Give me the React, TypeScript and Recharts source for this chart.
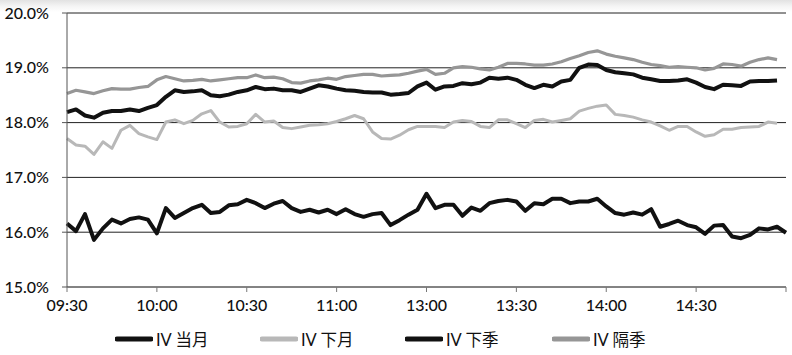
import { LineChart, Line, XAxis, YAxis, CartesianGrid, Legend } from "recharts";

// minutes after 09:30, lunch break removed (120 = 13:00)
const minutes = [
  0, 3, 6, 9, 12, 15, 18, 21, 24, 27, 30, 33, 36, 39, 42, 45, 48, 51, 54, 57,
  60, 63, 66, 69, 72, 75, 78, 81, 84, 87, 90, 93, 96, 99, 102, 105, 108, 111,
  114, 117, 120, 123, 126, 129, 132, 135, 138, 141, 144, 147, 150, 153, 156,
  159, 162, 165, 168, 171, 174, 177, 180, 183, 186, 189, 192, 195, 198, 201,
  204, 207, 210, 213, 216, 219, 222, 225, 228, 231, 234, 237, 240,
];

const dangYue = [
  16.16, 16.02, 16.33, 15.86, 16.07, 16.23, 16.16, 16.24, 16.27, 16.23,
  15.98, 16.44, 16.26, 16.35, 16.44, 16.5, 16.35, 16.37, 16.49, 16.51,
  16.59, 16.53, 16.44, 16.52, 16.57, 16.44, 16.37, 16.41, 16.36, 16.41,
  16.33, 16.42, 16.33, 16.28, 16.33, 16.35, 16.13, 16.22, 16.32, 16.41,
  16.7, 16.44, 16.5, 16.5, 16.3, 16.45, 16.39, 16.53, 16.57, 16.59,
  16.56, 16.39, 16.53, 16.51, 16.61, 16.61, 16.53, 16.56, 16.56, 16.61,
  16.47, 16.35, 16.32, 16.36, 16.32, 16.42, 16.1, 16.15, 16.21, 16.13,
  16.09, 15.97, 16.12, 16.13, 15.92, 15.89, 15.95, 16.07, 16.05, 16.1,
  15.99,
];

const xiaYue = [
  17.71, 17.59, 17.57, 17.42, 17.65, 17.53, 17.86, 17.95, 17.8, 17.74,
  17.69, 18.01, 18.05, 17.98, 18.04, 18.16, 18.22, 18.01, 17.92, 17.93,
  17.98, 18.15, 18.01, 18.03, 17.91, 17.89, 17.92, 17.95, 17.96, 17.98,
  18.02, 18.07, 18.13, 18.07, 17.83, 17.71, 17.7, 17.77, 17.87, 17.93,
  17.93, 17.93, 17.91, 18.01, 18.04, 18.02, 17.93, 17.91, 18.05, 18.05,
  17.98, 17.91, 18.04, 18.06, 18.01, 18.04, 18.07, 18.21, 18.26, 18.3,
  18.32, 18.15, 18.13, 18.1, 18.05, 18.01, 17.94, 17.86, 17.93, 17.93,
  17.83, 17.75, 17.78, 17.88, 17.88, 17.91, 17.92, 17.93, 18.01, 17.99,
  null,
];

const xiaJi = [
  18.19, 18.24, 18.13, 18.09, 18.18, 18.21, 18.21, 18.24, 18.21, 18.27,
  18.32, 18.47, 18.59, 18.56, 18.57, 18.59, 18.5, 18.48, 18.51, 18.56,
  18.59, 18.65, 18.61, 18.62, 18.59, 18.59, 18.56, 18.62, 18.68, 18.66,
  18.62, 18.59, 18.58, 18.56, 18.55, 18.55, 18.51, 18.52, 18.54, 18.66,
  18.73, 18.6, 18.66, 18.67, 18.72, 18.7, 18.73, 18.82, 18.8, 18.82,
  18.78, 18.69, 18.63, 18.69, 18.66, 18.75, 18.78, 19.0, 19.06, 19.05,
  18.96, 18.92, 18.9, 18.88, 18.82, 18.79, 18.76, 18.76, 18.77, 18.79,
  18.73, 18.65, 18.61, 18.69, 18.68, 18.67, 18.75, 18.76, 18.76, 18.77,
  null,
];

const geJi = [
  18.53, 18.59, 18.56, 18.53, 18.58, 18.62, 18.61, 18.61, 18.64, 18.66,
  18.78, 18.84, 18.8, 18.76, 18.77, 18.79, 18.76, 18.78, 18.8, 18.82,
  18.82, 18.87, 18.82, 18.83, 18.8, 18.73, 18.72, 18.76, 18.78, 18.81,
  18.79, 18.84, 18.86, 18.88, 18.88, 18.85, 18.86, 18.87, 18.9, 18.94,
  18.97, 18.88, 18.9, 19.0, 19.02, 19.01, 18.98, 18.96, 19.01, 19.08,
  19.08, 19.07, 19.05, 19.05, 19.07, 19.11, 19.17, 19.22, 19.28, 19.31,
  19.25, 19.21, 19.18, 19.15, 19.1, 19.06, 19.04, 19.01, 19.02, 19.01,
  19.0, 18.96, 18.99, 19.07, 19.06, 19.03, 19.1, 19.15, 19.18, 19.15,
  null,
];

const xTicks = [0, 30, 60, 90, 120, 150, 180, 210, 240];
const xTickLabels = ["09:30", "10:00", "10:30", "11:00", "13:00", "13:30", "14:00", "14:30", ""];
const yTicks = [15, 16, 17, 18, 19, 20];

const data = minutes.map((m, i) => ({
  m,
  dangYue: dangYue[i],
  xiaYue: xiaYue[i],
  xiaJi: xiaJi[i],
  geJi: geJi[i],
}));

const FONT = "Lato, 'Noto Sans CJK SC', sans-serif";

const series = [
  { key: "dangYue", name: "IV 当月", color: "#111111", width: 4 },
  { key: "xiaYue", name: "IV 下月", color: "#b8b8b8", width: 3 },
  { key: "xiaJi", name: "IV 下季", color: "#111111", width: 4 },
  { key: "geJi", name: "IV 隔季", color: "#969696", width: 3.2 },
];

const legendX = [115, 260, 405, 552];

function LegendBox() {
  return (
    <div style={{ position: "relative", width: 792, height: 38, fontFamily: FONT }}>
      {series.map((s, i) => (
        <div
          key={s.key}
          style={{
            position: "absolute",
            left: legendX[i],
            top: 10,
            height: 24,
            display: "flex",
            alignItems: "center",
            whiteSpace: "nowrap",
          }}
        >
          <svg width={38} height={10}>
            <line x1={2} y1={5} x2={36} y2={5} stroke={s.color} strokeWidth={5} strokeLinecap="round" />
          </svg>
          <span style={{ fontSize: 16.5, color: "#111", marginLeft: 3 }}>{s.name}</span>
        </div>
      ))}
    </div>
  );
}

export default function App() {
  return (
    <div
      style={{
        position: "absolute",
        left: 0,
        top: 0,
        width: 792,
        height: 355,
        background: "linear-gradient(#e2e2e2 0px, #f4f4f4 6px, #ffffff 12px)",
      }}
    >
      <LineChart width={792} height={355} data={data} margin={{ top: 13, right: 6, bottom: 0, left: 0 }}>
        <CartesianGrid horizontal vertical={false} stroke="#222" strokeWidth={1} />
        <XAxis
          dataKey="m"
          type="number"
          domain={[0, 240]}
          ticks={xTicks}
          tickFormatter={(v: number) => xTickLabels[xTicks.indexOf(v)] ?? ""}
          interval={0}
          height={30}
          tickSize={5}
          tickMargin={8}
          stroke="#777"
          tick={{ fill: "#111", fontSize: 16, fontFamily: FONT, fontWeight: 500 }}
        />
        <YAxis
          domain={[15, 20]}
          ticks={yTicks}
          tickFormatter={(v: number) => v.toFixed(1) + "%"}
          width={67}
          tickSize={5}
          tickMargin={13}
          stroke="#555"
          tick={{ fill: "#111", fontSize: 16, fontFamily: FONT, fontWeight: 500 }}
        />
        <Legend verticalAlign="bottom" wrapperStyle={{ left: 0 }} content={() => <LegendBox />} />
        {series.map((s) => (
          <Line
            key={s.key}
            type="linear"
            dataKey={s.key}
            name={s.name}
            stroke={s.color}
            strokeWidth={s.width}
            strokeLinejoin="round"
            dot={false}
            isAnimationActive={false}
          />
        ))}
      </LineChart>
    </div>
  );
}
